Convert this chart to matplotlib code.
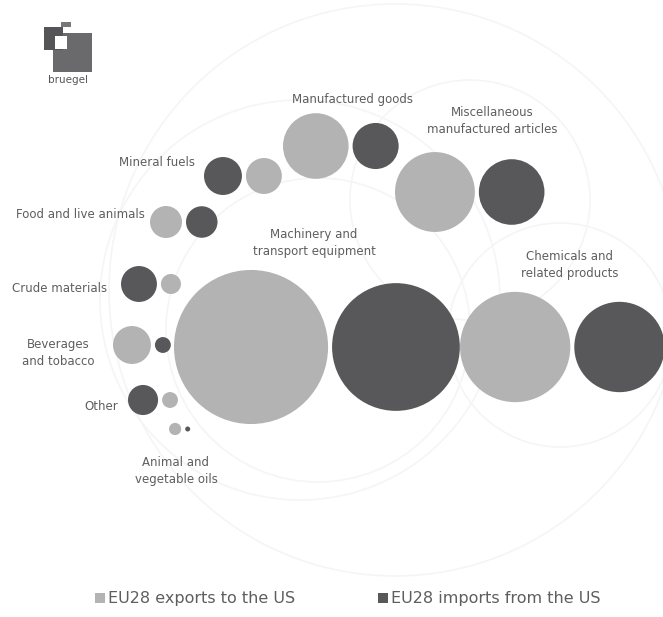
import numpy as np
import matplotlib.pyplot as plt
from matplotlib.patches import Circle, Rectangle

# ================= DATA (EUR bn) =================
categories = [
    "Machinery and\ntransport equipment",
    "Chemicals and\nrelated products",
    "Miscellaneous\nmanufactured articles",
    "Manufactured goods",
    "Mineral fuels",
    "Food and live animals",
    "Crude materials",
    "Beverages\nand tobacco",
    "Other",
    "Animal and\nvegetable oils",
]
exports_us = [160, 82, 43, 29, 8.7, 6.9, 2.7, 9.7, 1.7, 1.0]
imports_us = [110, 55, 29, 14.3, 9.7, 6.7, 8.7, 1.7, 6.1, 0.17]

# ================= LAYOUT (pixels) =================
W, H = 663, 617
SCALE = 6.09          # px radius per sqrt(EUR bn)
GAP = 4
# left edge of the pair, centre y, which one is drawn first
pair_left = [174, 460, 395, 283, 204, 150, 121, 113, 128, 169]
pair_y = [347, 347, 192, 146, 176, 222, 284, 345, 400, 429]
dark_first = [False, False, False, False, True, False, True, False, True, False]

# label position and alignment
label_xy = [(314, 243), (570, 265), (492, 121), (352, 100), (195, 163),
            (145, 215), (107, 289), (58, 353), (118, 406), (176, 471)]
label_ha = ["center", "center", "center", "center", "right",
            "right", "right", "center", "right", "center"]

LIGHT = "#b3b3b3"
DARK = "#58585a"
TEXT = "#5e5e5e"
FAINT = "#f5f5f5"

fig = plt.figure(figsize=(W / 100, H / 100), dpi=100)
ax = fig.add_axes([0, 0, 1, 1])
ax.set_xlim(0, W)
ax.set_ylim(H, 0)
ax.set_aspect("equal")
ax.axis("off")

# faint background rings
for cx, cy, r in [(395, 290, 286), (318, 330, 152), (560, 335, 112),
                  (300, 300, 200), (470, 200, 120)]:
    ax.add_patch(Circle((cx, cy), r, fill=False, ec=FAINT, lw=1.2, zorder=0))

for i, cat in enumerate(categories):
    r_exp = SCALE * np.sqrt(exports_us[i])
    r_imp = SCALE * np.sqrt(imports_us[i])
    if dark_first[i]:
        first = (r_imp, DARK)
        second = (r_exp, LIGHT)
    else:
        first = (r_exp, LIGHT)
        second = (r_imp, DARK)
    x1 = pair_left[i] + first[0]
    x2 = pair_left[i] + 2 * first[0] + GAP + second[0]
    ax.add_patch(Circle((x1, pair_y[i]), first[0], color=first[1], lw=0, zorder=2))
    ax.add_patch(Circle((x2, pair_y[i]), second[0], color=second[1], lw=0, zorder=2))

    lx, ly = label_xy[i]
    ax.text(lx, ly, cat, ha=label_ha[i], va="center", fontsize=8.5,
            color=TEXT, linespacing=1.45, zorder=3)

# ================= LOGO =================
ax.add_patch(Rectangle((53, 33), 39, 39, color="#6a6a6c", lw=0, zorder=3))
ax.add_patch(Rectangle((44, 27), 19, 23, color="#555557", lw=0, zorder=3))
ax.add_patch(Rectangle((55, 36), 12, 13, color="white", lw=0, zorder=4))
ax.add_patch(Rectangle((61, 22), 10, 5, color="#777779", lw=0, zorder=3))
ax.text(68, 80, "bruegel", ha="center", va="center", fontsize=7.5,
        color="#555557", zorder=4)

# ================= LEGEND =================
ax.add_patch(Rectangle((95, 593), 10, 10, color=LIGHT, lw=0))
ax.text(108, 598, "EU28 exports to the US", ha="left", va="center",
        fontsize=11.5, color=TEXT)
ax.add_patch(Rectangle((378, 593), 10, 10, color=DARK, lw=0))
ax.text(391, 598, "EU28 imports from the US", ha="left", va="center",
        fontsize=11.5, color=TEXT)

fig.savefig("out.png", dpi=100, facecolor="white")
